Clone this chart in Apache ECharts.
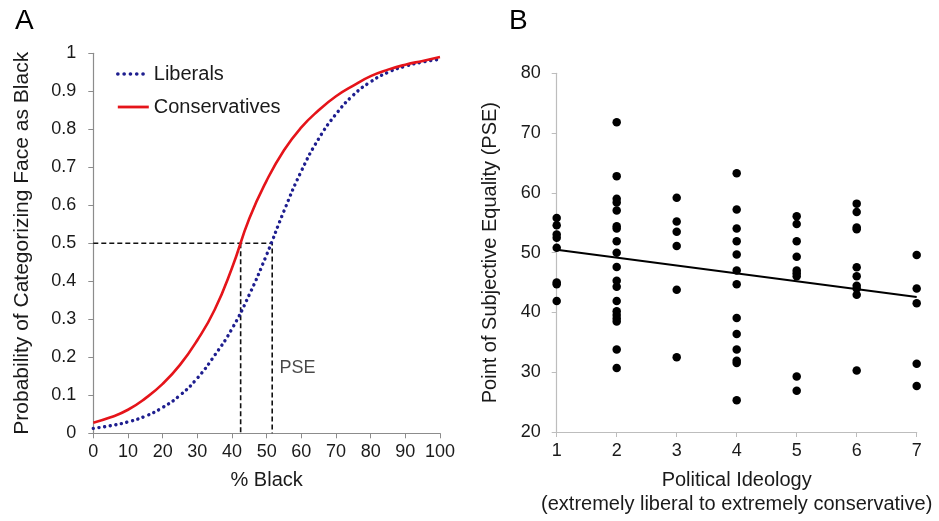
<!DOCTYPE html>
<html><head><meta charset="utf-8">
<script src="https://cdn.jsdelivr.net/npm/echarts@6/dist/echarts.min.js"></script>
<style>html,body{margin:0;padding:0;background:#fff}#c{width:939px;height:521px}</style>
</head><body><div id="c"></div>
<script>
// Panel A: psychometric curves
const pctBlack = [0,5,10,15,20,25,30,35,40,45,50,55,60,65,70,75,80,85,90,95,100];
const liberals = [0.013,0.02,0.03,0.045,0.068,0.1,0.145,0.205,0.275,0.365,0.47,0.585,0.69,0.775,0.84,0.89,0.925,0.95,0.966,0.977,0.984];
const conservatives = [0.028,0.042,0.062,0.092,0.13,0.18,0.245,0.325,0.435,0.565,0.665,0.745,0.805,0.85,0.887,0.915,0.94,0.957,0.97,0.98,0.99];
const pseConservatives = 42.5;
const pseLiberals = 51.6;

// Panel B: PSE by ideology
const ideology = [1,2,3,4,5,6,7];
const pseByIdeology = [
  [55.8,54.6,53.05,52.5,50.8,45,44.7,41.9],
  [71.8,62.8,59.0,58.4,57.05,54.4,54.05,51.9,50.0,47.6,45.3,44.3,41.9,40.2,39.55,39.0,38.5,33.8,30.7],
  [59.2,55.2,53.5,51.1,43.8,32.5],
  [63.3,57.2,54.05,51.9,49.7,47.0,44.7,39.05,36.4,33.8,31.9,31.55,25.3],
  [56.1,54.8,51.9,49.3,47.0,46.55,46.05,29.3,26.9],
  [58.2,56.8,54.2,53.9,47.55,46.05,44.45,44.0,42.95,30.3],
  [49.6,44.0,41.55,31.4,27.7]
];
const trendLine = [[1,50.5],[7,42.6]];

const FONT = 'Liberation Sans, Arial, Helvetica, sans-serif';
const txt = '#1a1a1a';

const scatterData = [];
ideology.forEach((x,i)=>pseByIdeology[i].forEach(v=>scatterData.push([x,v])));

const chart = echarts.init(document.getElementById('c'), null, {renderer:'canvas'});
const axisCommon = {
  axisLine:{show:true,lineStyle:{color:'#8c8c8c',width:1.2}},
  axisTick:{show:true,inside:false,length:5,lineStyle:{color:'#8c8c8c'}},
  splitLine:{show:false},
  axisLabel:{color:txt,fontSize:18,fontFamily:FONT},
  nameTextStyle:{color:txt,fontSize:20,fontFamily:FONT}
};
chart.setOption({
  animation:false,
  textStyle:{fontFamily:FONT},
  title:[
    {text:'A',left:10,top:2,textStyle:{fontSize:28,fontWeight:'normal',color:'#000',fontFamily:FONT}},
    {text:'B',left:504,top:2,textStyle:{fontSize:28,fontWeight:'normal',color:'#000',fontFamily:FONT}}
  ],
  legend:{
    data:[
      {name:'Liberals',lineStyle:{width:3.6,type:[0.1,6.2],cap:'round',color:'#1e1e8f'}},
      {name:'Conservatives',lineStyle:{width:2.8,color:'#e5141a'}}
    ],
    orient:'vertical', left:111, top:59,
    itemWidth:31, itemHeight:14, itemGap:13,
    itemStyle:{opacity:0},
    textStyle:{fontSize:20,color:txt,fontFamily:FONT,lineHeight:20}
  },
  grid:[
    {left:93.3,top:53.3,width:346.7,height:380,containLabel:false},
    {left:556.7,top:73.3,width:360,height:360,containLabel:false}
  ],
  xAxis:[
    Object.assign({},axisCommon,{gridIndex:0,type:'value',min:0,max:100,interval:10,
      name:'% Black',nameLocation:'middle',nameGap:37,
      axisLabel:Object.assign({},axisCommon.axisLabel,{margin:10})}),
    Object.assign({},axisCommon,{gridIndex:1,type:'value',min:1,max:7,interval:1,
      name:'Political Ideology\n(extremely liberal to extremely conservative)',nameLocation:'middle',nameGap:36,
      nameTextStyle:{color:txt,fontSize:20,fontFamily:FONT,lineHeight:24},
      axisLine:{show:true,lineStyle:{color:'#bdbdbd',width:1.2}},
      axisTick:{show:true,length:5,lineStyle:{color:'#bdbdbd'}},
      axisLabel:Object.assign({},axisCommon.axisLabel,{margin:10})})
  ],
  yAxis:[
    Object.assign({},axisCommon,{gridIndex:0,type:'value',min:0,max:1,interval:0.1,
      name:'Probability of Categorizing Face as Black',nameLocation:'middle',nameGap:61,
      nameTextStyle:{color:txt,fontSize:21,fontFamily:FONT},
      axisLabel:Object.assign({},axisCommon.axisLabel,{margin:17,formatter:v=>String(+v.toFixed(1))})}),
    Object.assign({},axisCommon,{gridIndex:1,type:'value',min:20,max:80,interval:10,
      name:'Point of Subjective Equality (PSE)',nameLocation:'middle',nameGap:56,
      axisLine:{show:true,lineStyle:{color:'#bdbdbd',width:1.2}},
      axisTick:{show:true,length:5,lineStyle:{color:'#bdbdbd'}},
      axisLabel:Object.assign({},axisCommon.axisLabel,{margin:16})})
  ],
  series:[
    {name:'PSE lines',type:'line',xAxisIndex:0,yAxisIndex:0,symbol:'none',silent:true,
      data:[[0,0.5],[pseLiberals,0.5],[pseLiberals,0]],
      lineStyle:{color:'#111',width:1.6,type:[5,3]},z:1},
    {name:'PSE lines 2',type:'line',xAxisIndex:0,yAxisIndex:0,symbol:'none',silent:true,
      data:[[pseConservatives,0.5],[pseConservatives,0]],
      lineStyle:{color:'#111',width:1.6,type:[5,3]},z:1},
    {name:'Liberals',type:'line',xAxisIndex:0,yAxisIndex:0,smooth:0.5,showSymbol:false,symbol:'none',
      data:pctBlack.map((x,i)=>[x,liberals[i]]),
      itemStyle:{color:'#1e1e8f'},
      lineStyle:{color:'#1e1e8f',width:3.4,type:[0.1,5.6],cap:'round'},z:3},
    {name:'Conservatives',type:'line',xAxisIndex:0,yAxisIndex:0,smooth:0.5,showSymbol:false,symbol:'none',
      data:pctBlack.map((x,i)=>[x,conservatives[i]]),
      itemStyle:{color:'#e5141a'},
      lineStyle:{color:'#e5141a',width:2.6},z:4},
    {name:'PSE label',type:'scatter',xAxisIndex:0,yAxisIndex:0,symbolSize:0,silent:true,
      data:[[53.7,0.173]],
      label:{show:true,position:'right',distance:0,formatter:'PSE',fontSize:18,color:txt,fontFamily:FONT}},
    {name:'points',type:'scatter',xAxisIndex:1,yAxisIndex:1,symbolSize:8.5,
      data:scatterData,itemStyle:{color:'#000',opacity:1},z:3},
    {name:'trend',type:'line',xAxisIndex:1,yAxisIndex:1,symbol:'none',
      data:trendLine,lineStyle:{color:'#000',width:2},z:4}
  ]
});
</script></body></html>
